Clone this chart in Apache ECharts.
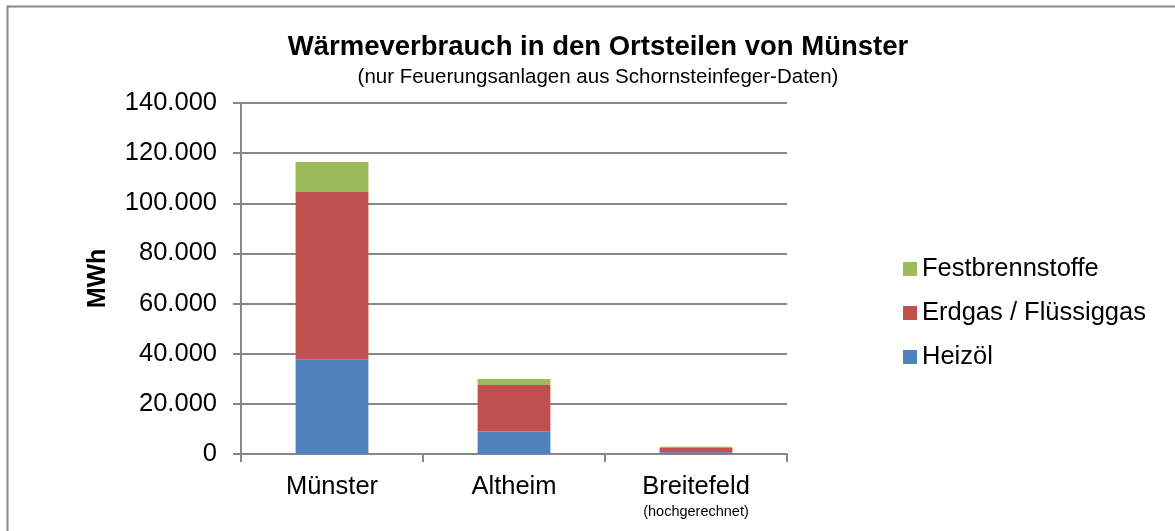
<!DOCTYPE html>
<html>
<head>
<meta charset="utf-8">
<script src="https://cdn.jsdelivr.net/npm/echarts@6/dist/echarts.min.js"></script>
<style>
  html, body { margin: 0; padding: 0; background: #fff; }
  #chart { width: 1175px; height: 531px; }
</style>
</head>
<body>
<div id="chart"></div>
<script>
const categories = ['Münster', 'Altheim', 'Breitefeld']
const heizoel = [37800, 9000, 700]
const erdgas = [66700, 18500, 1700]
const festbrennstoffe = [12000, 2400, 500]
const yTicks = [0, 20000, 40000, 60000, 80000, 100000, 120000, 140000]

const chart = echarts.init(document.getElementById('chart'))
const font = 'Liberation Sans, Arial, sans-serif'

// Tausenderpunkt wie im Original
function fmt(v) {
  return String(v).replace(/\B(?=(\d{3})+(?!\d))/g, '.')
}

chart.setOption({
  textStyle: { fontFamily: font },
  title: {
    text: 'Wärmeverbrauch in den Ortsteilen von Münster',
    subtext: '(nur Feuerungsanlagen aus Schornsteinfeger-Daten)',
    left: 593,
    top: 28,
    textAlign: 'center',
    itemGap: 6,
    textStyle: { fontSize: 27.5, fontWeight: 'bold', color: '#000', fontFamily: font },
    subtextStyle: { fontSize: 20.5, color: '#000', fontFamily: font }
  },
  graphic: [
    {
      type: 'rect',
      shape: { x: 7.5, y: 6.5, width: 1200, height: 600 },
      style: { fill: 'none', stroke: '#878787', lineWidth: 2 },
      silent: true
    }
  ],
  legend: {
    orient: 'vertical',
    left: 898,
    top: 251,
    itemWidth: 14,
    itemHeight: 14,
    itemGap: 18,
    icon: 'rect',
    data: ['Festbrennstoffe', 'Erdgas / Flüssiggas', 'Heizöl'],
    textStyle: { fontSize: 25.5, color: '#000', fontFamily: font }
  },
  grid: {
    left: 241,
    right: 388,
    top: 103,
    bottom: 77,
    containLabel: false
  },
  xAxis: {
    type: 'category',
    data: categories,
    axisLine: { lineStyle: { color: '#878787', width: 2 } },
    axisTick: { show: true, alignWithLabel: false, length: 8, lineStyle: { color: '#878787', width: 2 } },
    axisLabel: {
      fontSize: 25.5,
      color: '#000',
      margin: 19,
      interval: 0,
      formatter: function(v) {
        return v === 'Breitefeld' ? v + '\n{s|(hochgerechnet)}' : v
      },
      lineHeight: 28,
      rich: { s: { fontSize: 14.5, color: '#000', lineHeight: 22, fontFamily: font } }
    }
  },
  yAxis: {
    type: 'value',
    min: yTicks[0],
    max: yTicks[yTicks.length - 1],
    interval: 20000,
    name: 'MWh',
    nameLocation: 'middle',
    nameGap: 130,
    nameRotate: 90,
    nameTextStyle: { fontSize: 25, fontWeight: 'bold', color: '#000', fontFamily: font },
    axisLine: { show: true, lineStyle: { color: '#878787', width: 2 } },
    axisTick: { show: true, length: 8, lineStyle: { color: '#878787', width: 2 } },
    axisLabel: { fontSize: 25.5, color: '#000', margin: 24, formatter: fmt },
    splitLine: { lineStyle: { color: '#878787', width: 2 } }
  },
  series: [
    {
      name: 'Heizöl',
      type: 'bar',
      stack: 'total',
      barWidth: '40%',
      itemStyle: { color: '#4F81BD' },
      data: heizoel
    },
    {
      name: 'Erdgas / Flüssiggas',
      type: 'bar',
      stack: 'total',
      barWidth: '40%',
      itemStyle: { color: '#C0504D' },
      data: erdgas
    },
    {
      name: 'Festbrennstoffe',
      type: 'bar',
      stack: 'total',
      barWidth: '40%',
      itemStyle: { color: '#9BBB59' },
      data: festbrennstoffe
    }
  ]
})
</script>
</body>
</html>
